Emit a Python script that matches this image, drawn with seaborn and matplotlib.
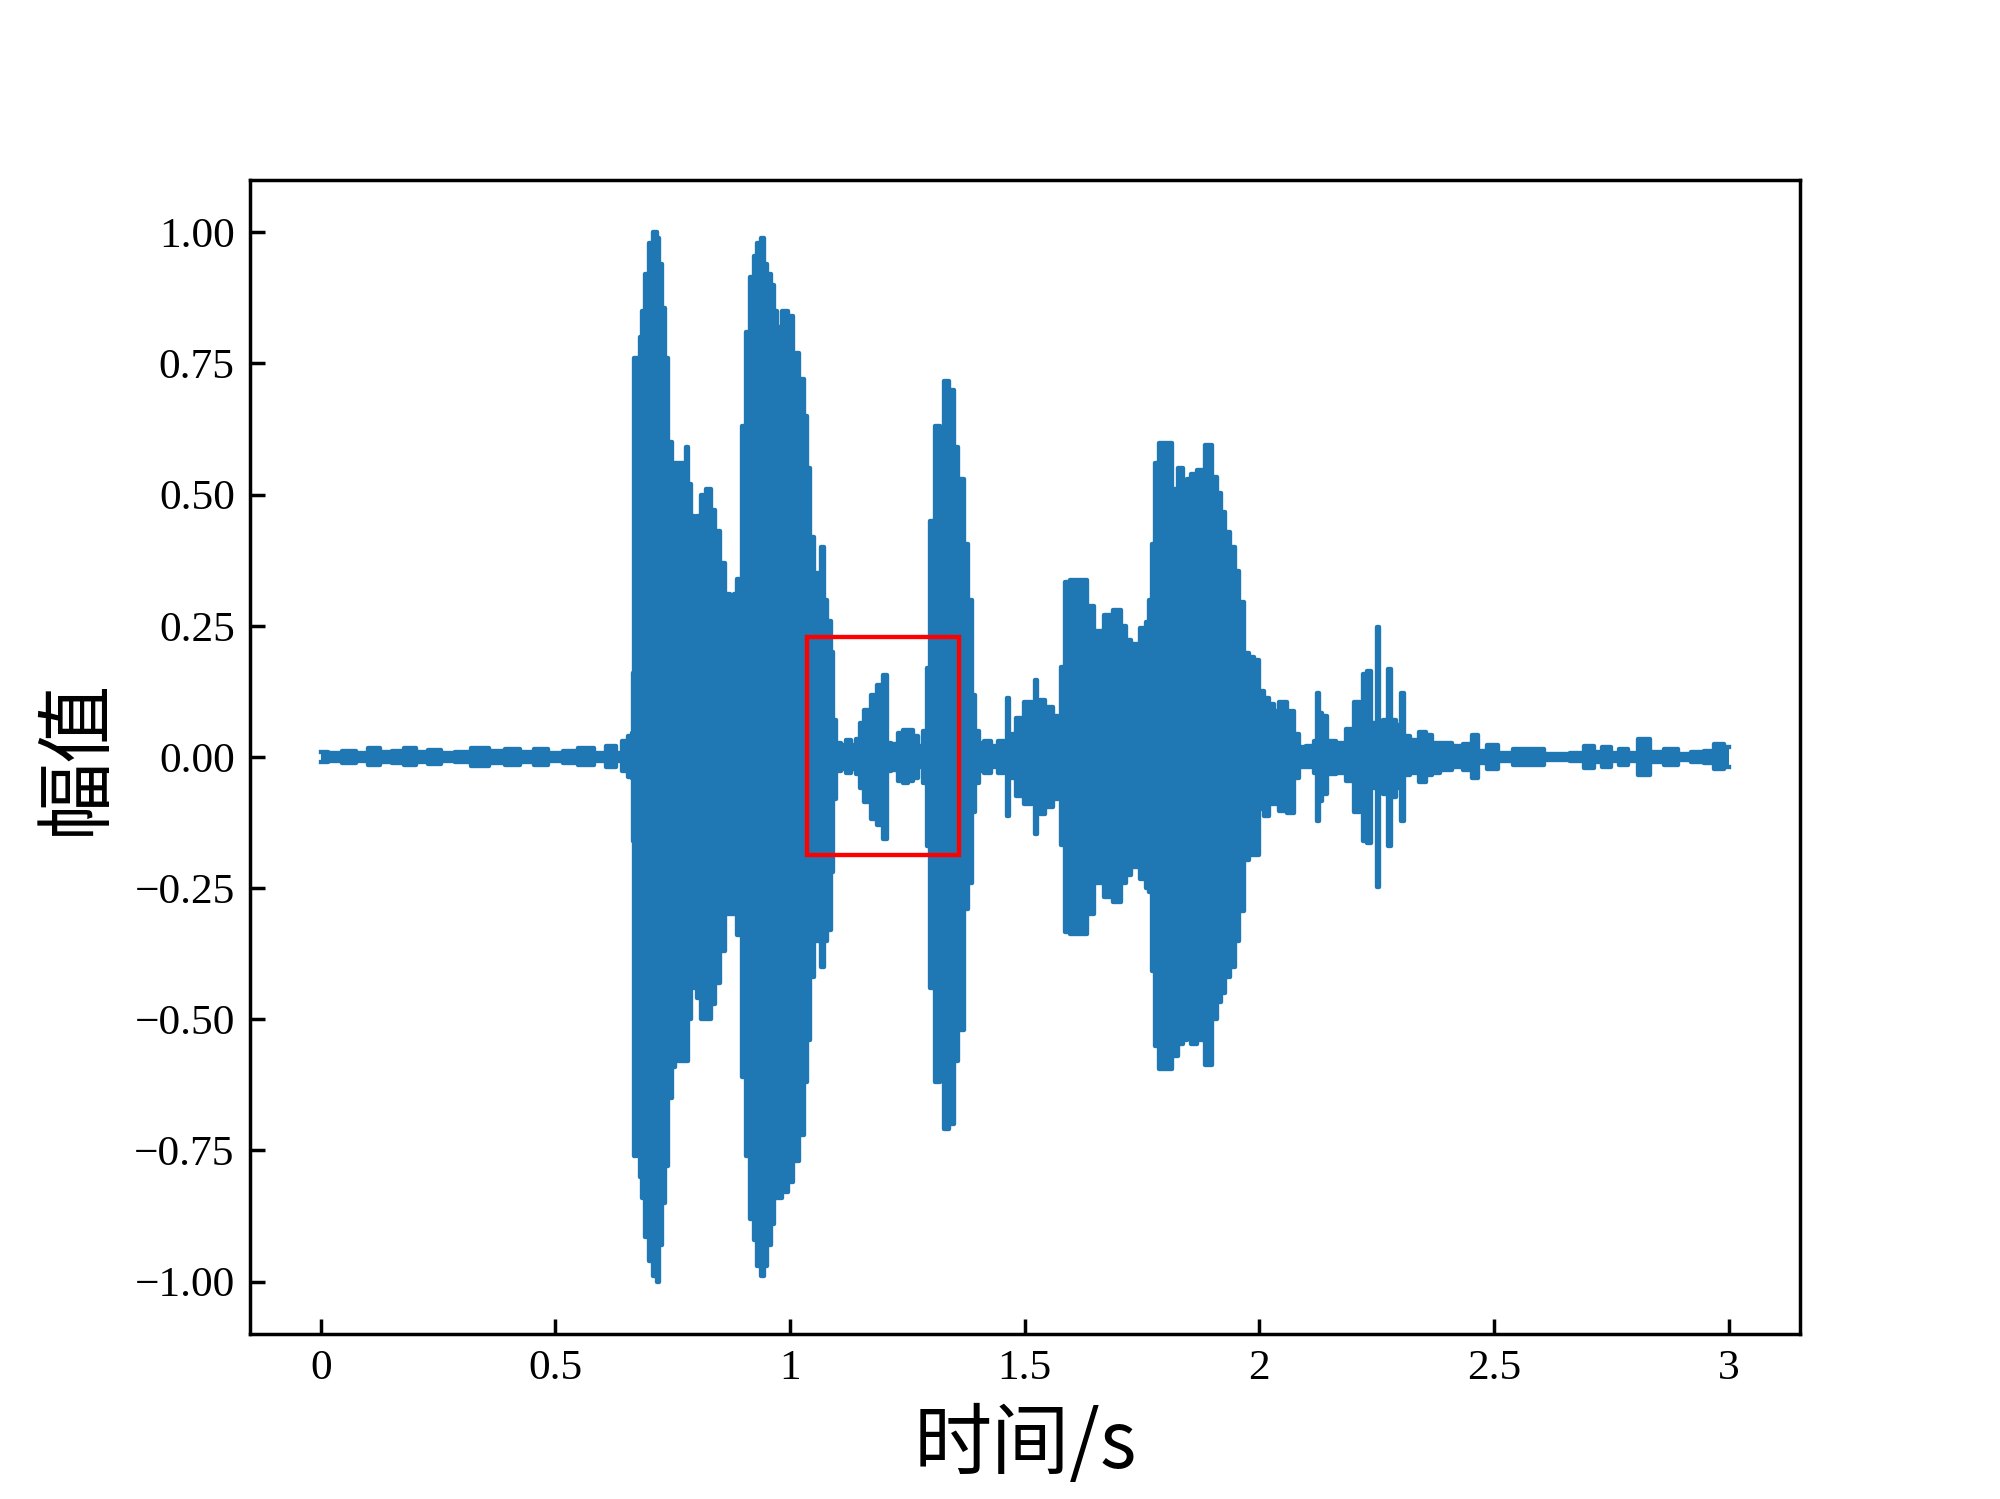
import numpy as np
import pandas as pd
import matplotlib.pyplot as plt
import seaborn as sns
from matplotlib.patches import Rectangle

# envelope of the speech waveform
t_env = [
    0.000, 0.030, 0.060, 0.090, 0.112, 0.140, 0.165, 0.190, 0.215, 0.240,
    0.270, 0.300, 0.340, 0.375, 0.410, 0.440, 0.470, 0.500, 0.530, 0.567,
    0.595, 0.621, 0.636, 0.649, 0.660, 0.664, 0.666, 0.669, 0.674, 0.678,
    0.681, 0.688, 0.695, 0.702, 0.713, 0.718, 0.723, 0.730, 0.737, 0.744,
    0.751, 0.760, 0.775, 0.781, 0.785, 0.792, 0.799, 0.806, 0.813, 0.827,
    0.834, 0.845, 0.856, 0.866, 0.877, 0.884, 0.891, 0.902, 0.909, 0.919,
    0.926, 0.933, 0.941, 0.948, 0.955, 0.962, 0.969, 0.976, 0.990, 1.000,
    1.011, 1.025, 1.032, 1.039, 1.046, 1.057, 1.064, 1.069, 1.074, 1.083,
    1.090, 1.094, 1.100, 1.115, 1.125, 1.135, 1.145, 1.151, 1.165, 1.179,
    1.193, 1.204, 1.208, 1.222, 1.236, 1.247, 1.257, 1.268, 1.279, 1.289,
    1.293, 1.304, 1.314, 1.323, 1.334, 1.345, 1.353, 1.364, 1.375, 1.385,
    1.392, 1.398, 1.407, 1.420, 1.435, 1.450, 1.460, 1.464, 1.468, 1.476,
    1.488, 1.510, 1.521, 1.524, 1.528, 1.535, 1.552, 1.567, 1.574, 1.581,
    1.592, 1.602, 1.627, 1.638, 1.659, 1.677, 1.698, 1.712, 1.720, 1.734,
    1.755, 1.762, 1.769, 1.773, 1.782, 1.791, 1.808, 1.819, 1.833, 1.840,
    1.851, 1.858, 1.876, 1.894, 1.904, 1.915, 1.922, 1.932, 1.942, 1.952,
    1.961, 1.972, 1.983, 1.993, 2.004, 2.015, 2.026, 2.036, 2.049, 2.068,
    2.079, 2.089, 2.110, 2.121, 2.125, 2.130, 2.136, 2.150, 2.175, 2.192,
    2.210, 2.218, 2.224, 2.235, 2.242, 2.250, 2.253, 2.256, 2.270, 2.278,
    2.284, 2.300, 2.305, 2.311, 2.331, 2.349, 2.360, 2.374, 2.395, 2.424,
    2.445, 2.459, 2.473, 2.498, 2.520, 2.559, 2.597, 2.615, 2.644, 2.680,
    2.704, 2.722, 2.740, 2.758, 2.776, 2.795, 2.818, 2.845, 2.879, 2.905,
    2.936, 2.960, 2.979, 3.000,
]
upper_env = [
    0.010, 0.008, 0.012, 0.008, 0.017, 0.010, 0.012, 0.017, 0.010, 0.014,
    0.007, 0.010, 0.017, 0.012, 0.016, 0.010, 0.015, 0.008, 0.012, 0.017,
    0.008, 0.020, 0.008, 0.030, 0.040, 0.045, 0.160, 0.760, 0.760, 0.730,
    0.800, 0.850, 0.920, 0.980, 1.000, 0.990, 0.940, 0.856, 0.760, 0.600,
    0.560, 0.560, 0.560, 0.590, 0.520, 0.460, 0.420, 0.460, 0.500, 0.510,
    0.470, 0.430, 0.370, 0.310, 0.300, 0.310, 0.340, 0.630, 0.810, 0.915,
    0.955, 0.980, 0.990, 0.940, 0.920, 0.900, 0.850, 0.820, 0.850, 0.840,
    0.770, 0.720, 0.650, 0.550, 0.420, 0.350, 0.300, 0.400, 0.300, 0.260,
    0.200, 0.070, 0.026, 0.022, 0.032, 0.022, 0.035, 0.065, 0.090, 0.118,
    0.137, 0.157, 0.026, 0.024, 0.046, 0.052, 0.052, 0.040, 0.020, 0.050,
    0.170, 0.450, 0.630, 0.550, 0.716, 0.700, 0.590, 0.530, 0.405, 0.300,
    0.118, 0.050, 0.026, 0.030, 0.020, 0.030, 0.020, 0.112, 0.040, 0.044,
    0.074, 0.104, 0.080, 0.146, 0.100, 0.108, 0.095, 0.078, 0.044, 0.172,
    0.334, 0.338, 0.338, 0.287, 0.240, 0.270, 0.280, 0.250, 0.223, 0.215,
    0.245, 0.257, 0.300, 0.406, 0.560, 0.598, 0.598, 0.510, 0.550, 0.500,
    0.530, 0.540, 0.547, 0.594, 0.534, 0.504, 0.466, 0.428, 0.400, 0.355,
    0.296, 0.198, 0.190, 0.185, 0.125, 0.112, 0.100, 0.087, 0.104, 0.087,
    0.044, 0.019, 0.020, 0.030, 0.122, 0.083, 0.078, 0.030, 0.027, 0.053,
    0.104, 0.080, 0.158, 0.163, 0.064, 0.060, 0.247, 0.060, 0.070, 0.167,
    0.070, 0.060, 0.122, 0.040, 0.032, 0.048, 0.041, 0.027, 0.027, 0.020,
    0.025, 0.041, 0.012, 0.022, 0.008, 0.016, 0.016, 0.006, 0.006, 0.008,
    0.021, 0.010, 0.019, 0.008, 0.016, 0.008, 0.035, 0.010, 0.016, 0.005,
    0.010, 0.012, 0.024, 0.019,
]
lower_env = [
    -0.010, -0.008, -0.011, -0.008, -0.016, -0.010, -0.012, -0.016, -0.010, -0.013,
    -0.007, -0.010, -0.017, -0.012, -0.016, -0.010, -0.015, -0.008, -0.012, -0.016,
    -0.008, -0.020, -0.008, -0.027, -0.038, -0.040, -0.160, -0.760, -0.750, -0.760,
    -0.800, -0.840, -0.915, -0.960, -0.990, -1.000, -0.930, -0.850, -0.780, -0.650,
    -0.590, -0.580, -0.580, -0.580, -0.500, -0.440, -0.420, -0.460, -0.500, -0.500,
    -0.470, -0.430, -0.370, -0.300, -0.300, -0.300, -0.340, -0.610, -0.760, -0.880,
    -0.920, -0.970, -0.990, -0.970, -0.930, -0.890, -0.840, -0.840, -0.830, -0.810,
    -0.770, -0.720, -0.620, -0.540, -0.420, -0.350, -0.300, -0.400, -0.350, -0.330,
    -0.220, -0.080, -0.026, -0.022, -0.030, -0.022, -0.032, -0.060, -0.085, -0.118,
    -0.130, -0.157, -0.026, -0.024, -0.046, -0.050, -0.046, -0.040, -0.020, -0.050,
    -0.170, -0.440, -0.620, -0.550, -0.710, -0.700, -0.580, -0.520, -0.290, -0.240,
    -0.105, -0.050, -0.026, -0.030, -0.020, -0.030, -0.020, -0.113, -0.040, -0.040,
    -0.075, -0.090, -0.080, -0.147, -0.100, -0.109, -0.096, -0.080, -0.045, -0.167,
    -0.334, -0.337, -0.337, -0.300, -0.240, -0.267, -0.277, -0.240, -0.225, -0.210,
    -0.233, -0.250, -0.257, -0.407, -0.550, -0.594, -0.594, -0.570, -0.547, -0.540,
    -0.535, -0.547, -0.540, -0.587, -0.500, -0.467, -0.450, -0.420, -0.400, -0.350,
    -0.293, -0.197, -0.187, -0.187, -0.100, -0.113, -0.090, -0.090, -0.103, -0.107,
    -0.040, -0.020, -0.020, -0.030, -0.122, -0.083, -0.070, -0.032, -0.030, -0.045,
    -0.105, -0.080, -0.160, -0.164, -0.060, -0.060, -0.247, -0.060, -0.070, -0.169,
    -0.077, -0.060, -0.122, -0.035, -0.030, -0.048, -0.035, -0.030, -0.025, -0.020,
    -0.025, -0.040, -0.012, -0.022, -0.008, -0.016, -0.016, -0.006, -0.006, -0.008,
    -0.021, -0.010, -0.019, -0.008, -0.016, -0.008, -0.035, -0.010, -0.016, -0.005,
    -0.010, -0.012, -0.022, -0.019,
]

# highlighted window (time range, amplitude range)
box_t = [1.037, 1.360]
box_amp = [-0.187, 0.229]

x_ticks = [0, 0.5, 1, 1.5, 2, 2.5, 3]
x_tick_labels = ['0', '0.5', '1', '1.5', '2', '2.5', '3']
y_ticks = [-1.0, -0.75, -0.5, -0.25, 0.0, 0.25, 0.5, 0.75, 1.0]

wave_color = '#1f77b4'


def main():
    plt.rcParams['xtick.direction'] = 'in'
    plt.rcParams['ytick.direction'] = 'in'

    df = pd.DataFrame({'t': t_env, 'upper': upper_env, 'lower': lower_env})

    fig, ax = plt.subplots(figsize=(6.4, 4.797), dpi=312.5)

    # waveform body, drawn as a stepped envelope
    ax.fill_between(df['t'], df['lower'], df['upper'], step='mid',
                    color=wave_color, lw=0)
    for col in ['upper', 'lower']:
        sns.lineplot(data=df, x='t', y=col, ax=ax, color=wave_color, lw=1.0,
                     estimator=None, sort=False, drawstyle='steps-mid')

    # red box round the quiet part
    ax.add_patch(Rectangle((box_t[0], box_amp[0]), box_t[1] - box_t[0],
                           box_amp[1] - box_amp[0], fill=False,
                           edgecolor='red', lw=1.0, zorder=5))

    ax.set_xlim(-0.151, 3.152)
    ax.set_ylim(-1.1, 1.1)
    ax.set_xticks(x_ticks)
    ax.set_xticklabels(x_tick_labels)
    ax.set_yticks(y_ticks)
    ax.set_yticklabels([f'{v:.2f}'.replace('-', '\u2212') for v in y_ticks])
    for lab in ax.get_xticklabels() + ax.get_yticklabels():
        lab.set_fontfamily(['Liberation Serif', 'DejaVu Serif'])
        lab.set_fontsize(10)

    cjk = ['Noto Sans CJK SC', 'DejaVu Sans']
    ax.set_xlabel('时间/s', fontsize=18, family=cjk)
    ax.set_ylabel('幅值', fontsize=18, family=cjk)

    plt.savefig('out.png')
    plt.close()


if __name__ == "__main__":
    main()
